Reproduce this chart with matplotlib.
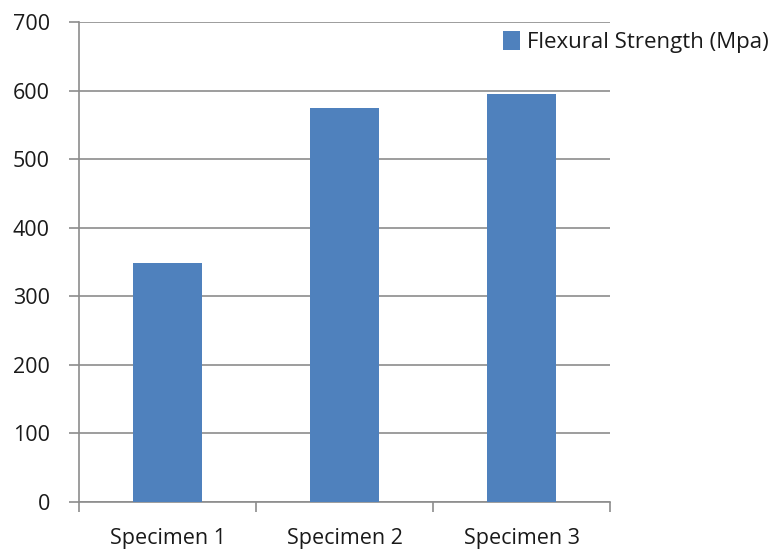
import matplotlib.pyplot as plt
import numpy as np

# Данные
categories = ['Specimen 1', 'Specimen 2', 'Specimen 3']
strength = [348, 575, 595]
y_ticks = [0, 100, 200, 300, 400, 500, 600, 700]

plt.rcParams['font.family'] = ['Open Sans', 'DejaVu Sans']

fig = plt.figure(figsize=(7.79, 5.51), dpi=100)
ax = fig.add_axes([79 / 779, 49 / 551, 531 / 779, 480 / 551])

x = np.arange(len(categories))
ax.bar(x, strength, width=0.39, color='#4F81BD', label='Flexural Strength (Mpa)', zorder=3)

# Оси и сетка
ax.set_xlim(-0.5, len(categories) - 0.5)
ax.set_ylim(0, 700)
ax.set_yticks(y_ticks)
ax.yaxis.grid(True, color='#8c8c8c', linewidth=1.2, zorder=0)
ax.set_xticks(x)
ax.set_xticklabels(categories)
ax.set_xticks(np.arange(len(categories) + 1) - 0.5, minor=True)
ax.tick_params(axis='x', which='major', length=0, pad=19, labelsize=15.5, colors='#1a1a1a')
ax.tick_params(axis='x', which='minor', length=7, width=1.2, color='#8c8c8c')
ax.tick_params(axis='y', length=7, width=1.2, color='#8c8c8c', pad=14, labelsize=15.5,
               labelcolor='#1a1a1a')

for side in ['top', 'right']:
    ax.spines[side].set_visible(False)
for side in ['left', 'bottom']:
    ax.spines[side].set_color('#8c8c8c')
    ax.spines[side].set_linewidth(1.2)

# Легенда
leg = ax.legend(loc='center left', bbox_to_anchor=(424 / 531, 460 / 480), frameon=False,
                fontsize=16, handlelength=0.75, handleheight=0.9, handletextpad=0.35,
                borderaxespad=0, borderpad=0)
for t in leg.get_texts():
    t.set_color('#1a1a1a')

fig.savefig('out.png', dpi=100)
